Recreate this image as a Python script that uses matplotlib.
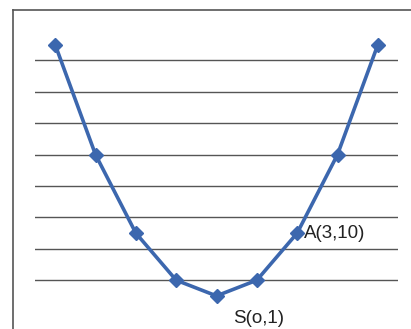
import matplotlib.pyplot as plt
from matplotlib.lines import Line2D

# data: y = x^2 + 1
x_vals = [-4, -3, -2, -1, 0, 1, 2, 3, 4]
y_vals = [17, 10, 5, 2, 1, 2, 5, 10, 17]
grid_vals = [2, 4, 6, 8, 10, 12, 14, 16]

blue = "#3C67AE"
plt.rcParams["font.family"] = ["Liberation Sans", "DejaVu Sans"]

fig = plt.figure(figsize=(4.11, 3.29), dpi=100)
fig.patch.set_facecolor("white")

# outer frame (top and left edges visible)
fig.add_artist(Line2D([13 / 411, 1.0], [1 - 10 / 329, 1 - 10 / 329],
                      transform=fig.transFigure, color="#555555", lw=1.2))
fig.add_artist(Line2D([13 / 411, 13 / 411], [0.0, 1 - 10 / 329],
                      transform=fig.transFigure, color="#555555", lw=1.2))

ax = fig.add_axes([35 / 411, 1 - 311.6 / 329, 363 / 411, 282.6 / 329])
ax.set_xlim(-4.5, 4.5)
ax.set_ylim(0, 18)
for g in grid_vals:
    ax.axhline(g, color="#555555", lw=1.0, zorder=1)
for s in ax.spines.values():
    s.set_visible(False)
ax.set_xticks([])
ax.set_yticks([])
ax.patch.set_alpha(0)

ax.plot(x_vals, y_vals, color=blue, lw=2.6, marker="D", markersize=7.5,
        markerfacecolor=blue, markeredgecolor=blue, zorder=3)

ax.annotate("A(3,10)", xy=(2, 5), xytext=(5, 0), textcoords="offset points",
            ha="left", va="center", fontsize=13.5, color="#222222")
ax.annotate("S(o,1)", xy=(0, 1), xytext=(12, -16.5), textcoords="offset points",
            ha="left", va="center", fontsize=13.5, color="#222222",
            annotation_clip=False)

fig.savefig("out.png", dpi=100)
